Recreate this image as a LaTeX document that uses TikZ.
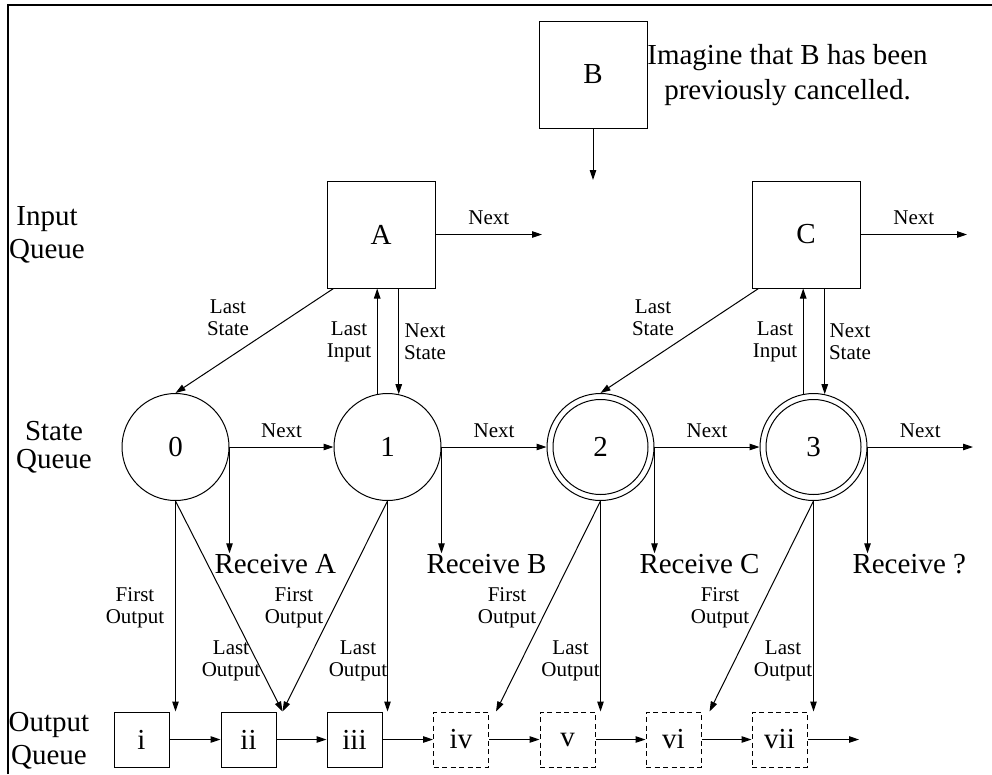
\documentclass[tikz,border=0pt]{standalone}
\usepackage{fontspec}
\setmainfont{Liberation Serif}
\usetikzlibrary{arrows.meta}
\begin{document}
\begin{tikzpicture}[x=1pt,y=-1pt,
  line width=1pt,
  >={Triangle[length=10pt,width=6.5pt]},
  big/.style={font=\fontsize{29}{33}\selectfont},
  small/.style={font=\fontsize{21}{22}\selectfont, align=center, inner sep=0pt},
  rowlabel/.style={align=center, inner sep=0pt},
  inbox/.style={draw, minimum width=108pt, minimum height=107pt, inner sep=0pt, big},
  state/.style={draw, circle, minimum size=107pt, inner sep=0pt, big},
  final/.style={state, path picture={\draw (path picture bounding box.center) circle[radius=47.5pt];}},
  outbox/.style={draw, minimum size=55pt, inner sep=0pt, big},
  pending/.style={outbox, dash pattern=on 5pt off 3.5pt},
  recv/.style={big, anchor=base west, inner sep=0pt},
  flow/.style={->},
]
\useasboundingbox (0,0) rectangle (992,774);

% frame
\draw[line width=1.2pt] (8,774) -- (8,5) -- (992,5);

% input queue
\node[inbox] (B) at (593,74.5) {B};
\node[inbox] (A) at (381,234.5) {A};
\node[inbox] (C) at (806,234.5) {C};
\node[rowlabel, font=\fontsize{29}{35}\selectfont] (note) at (787.5,74.5)
  {\strut Imagine that B has been\\\strut previously cancelled.};

% state queue
\node[state] (s0) at (175.5,447) {0};
\node[state] (s1) at (387.5,447) {1};
\node[final] (s2) at (600.5,447) {2};
\node[final] (s3) at (813.5,447) {3};

% output queue
\node[outbox]  (o1) at (141.5,739.5) {i};
\node[outbox]  (o2) at (248.5,739.5) {ii};
\node[outbox]  (o3) at (354.5,739.5) {iii};
\node[pending] (o4) at (461,739.5) {iv};
\node[pending] (o5) at (567.5,739.5) {v};
\node[pending] (o6) at (673.5,739.5) {vi};
\node[pending] (o7) at (779.5,739.5) {vii};

% row labels
\node[rowlabel, font=\fontsize{29}{33}\selectfont] (lin) at (47,234.9) {\strut Input\\\strut Queue};
\node[rowlabel, font=\fontsize{29}{28}\selectfont] (lst) at (54,449.3) {\strut State\\\strut Queue};
\node[rowlabel, font=\fontsize{29}{33}\selectfont] (lout) at (49,741.7) {\strut Output\\\strut Queue};

% free ends
\coordinate (Bend) at (593,180);
\coordinate (Aend) at (542,234.5);
\coordinate (Cend) at (967,234.5);
\coordinate (S3end) at (973,447);
\coordinate (O7end) at (859,739.5);

% input queue links
\draw[flow] (B.south) -- (Bend);
\draw[flow] (A.east) -- (Aend) node[midway, small, anchor=base, yshift=10pt] (nA) {Next};
\draw[flow] (C.east) -- (Cend) node[midway, small, anchor=base, yshift=10pt] (nC) {Next};

% A <-> states
\draw[flow] ([xshift=7pt]A.south west) -- (s0.north);
\draw[flow] (s1.101) -- (s1.101 |- A.south);
\draw[flow] (s1.78 |- A.south) -- (s1.78);
\node[small] (lsA) at (228,319.6) {\strut Last\\\strut State};
\node[small] (liA) at (349,341.6) {\strut Last\\\strut Input};
\node[small] (nsA) at (425,343.6) {\strut Next\\\strut State};

% C <-> states
\draw[flow] ([xshift=7pt]C.south west) -- (s2.north);
\draw[flow] (s3.101) -- (s3.101 |- C.south);
\draw[flow] (s3.78 |- C.south) -- (s3.78);
\node[small] (lsC) at (653,319.6) {\strut Last\\\strut State};
\node[small] (liC) at (775,341.6) {\strut Last\\\strut Input};
\node[small] (nsC) at (850,343.6) {\strut Next\\\strut State};

% state queue links
\draw[flow] (s0.east) -- (s1.west) node[midway, small, anchor=base, yshift=10pt] (n01) {Next};
\draw[flow] (s1.east) -- (s2.west) node[midway, small, anchor=base, yshift=10pt] (n12) {Next};
\draw[flow] (s2.east) -- (s3.west) node[midway, small, anchor=base, yshift=10pt] (n23) {Next};
\draw[flow] (s3.east) -- (S3end) node[midway, small, anchor=base, yshift=10pt] (n3x) {Next};

% receive events
\node[recv] (rA) at (214,573) {Receive A};
\node[recv] (rB) at (426,573) {Receive B};
\node[recv] (rC) at (639,573) {Receive C};
\node[recv] (rQ) at (852,573) {Receive ?};
\draw[flow] (s0.east) -- (s0.east |- rA.north);
\draw[flow] (s1.east) -- (s1.east |- rB.north);
\draw[flow] (s2.east) -- (s2.east |- rC.north);
\draw[flow] (s3.east) -- (s3.east |- rQ.north);

% states -> outputs
\draw[flow] (s0.south) -- (s0.south |- o1.north);
\draw[flow] (s0.south) -- ([xshift=6pt]o2.north east);
\draw[flow] (s1.south) -- ([xshift=6pt]o2.north east);
\draw[flow] (s1.south) -- (s1.south |- o3.north);
\draw[flow] (s2.south) -- ([xshift=7pt]o4.north east);
\draw[flow] (s2.south) -- (s2.south |- o5.north);
\draw[flow] (s3.south) -- ([xshift=8pt]o6.north east);
\draw[flow] (s3.south) -- (s3.south |- o7.north);

\node[small] (f0) at (135,607.6) {\strut First\\\strut Output};
\node[small] (l0) at (231,660.9) {\strut Last\\\strut Output};
\node[small] (f1) at (294,607.6) {\strut First\\\strut Output};
\node[small] (l1) at (358,660.9) {\strut Last\\\strut Output};
\node[small] (f2) at (507,607.6) {\strut First\\\strut Output};
\node[small] (l2) at (570.5,660.9) {\strut Last\\\strut Output};
\node[small] (f3) at (720,607.6) {\strut First\\\strut Output};
\node[small] (l3) at (783,660.9) {\strut Last\\\strut Output};

% output queue links
\draw[flow] (o1.east) -- (o2.west);
\draw[flow] (o2.east) -- (o3.west);
\draw[flow] (o3.east) -- (o4.west);
\draw[flow] (o4.east) -- (o5.west);
\draw[flow] (o5.east) -- (o6.west);
\draw[flow] (o6.east) -- (o7.west);
\draw[flow] (o7.east) -- (O7end);
\end{tikzpicture}
\end{document}
